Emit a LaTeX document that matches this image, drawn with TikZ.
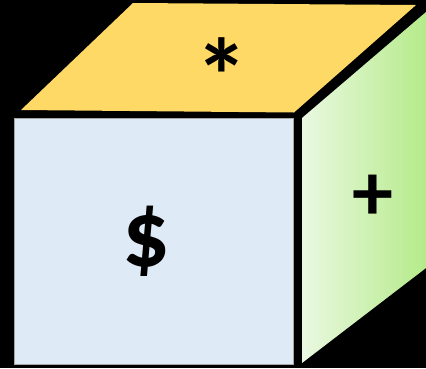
\documentclass[tikz,border=0pt]{standalone}
\usepackage{fontspec}
\setmainfont{Carlito}
\usepackage{tikz}
\definecolor{cubetop}{HTML}{FFD966}
\definecolor{cubefront}{HTML}{DEEBF7}
\definecolor{cubepale}{HTML}{EAF8E1}
\definecolor{cubegreen}{HTML}{B5EB8A}
\tikzset{
    symb/.style={font=\fontsize{#1}{#1}\selectfont\bfseries,inner sep=0pt,text=black},
    frontface/.style={fill=cubefront,draw=gray!70,line width=0.6pt},
}

\begin{document}
\begin{tikzpicture}[x=1pt,y=-1pt]
    \fill[black] (0,0) rectangle (426,368);
    % faces of the cube
    \fill[cubetop] (21,110) -- (133,3) -- (416,5) -- (294,112.5) -- cycle;
    \filldraw[frontface] (14.3,118) rectangle (293,364);
    \shade[left color=cubepale,right color=cubegreen] (302,118) -- (426,12) -- (426,268) -- (302,363) -- cycle;
    % symbols
    \node[symb=106] (star) at (222,76) {*};
    \node[symb=94] (dollar) at (146,241) {\$};
    \node[symb=82] (plus) at (373,198) {+};
\end{tikzpicture}
\end{document}
